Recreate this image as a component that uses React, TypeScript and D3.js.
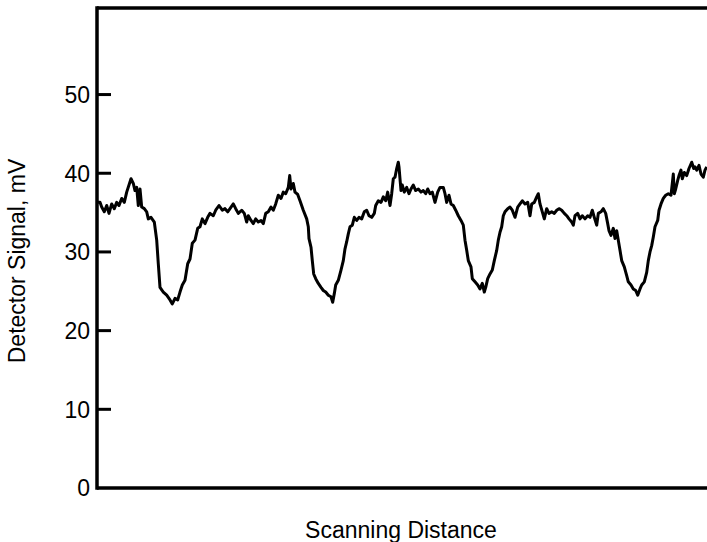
import React from "react";
import * as d3 from "d3";

// scanning distance (arbitrary units) and detector signal (mV)
const scanDistance = [
  0, 3, 4.7, 7.3, 9.7, 12, 14.7, 17.3, 19.7, 22, 24.7, 27.3, 29.7, 34, 36.3, 38, 39.7, 41.3, 43, 44.7,
  47.3, 49.7, 51.3, 54, 57.3, 59.7, 61.3, 63, 66.3, 69.7, 73, 75.3, 78, 80.7, 83, 85.3, 88, 90.7, 93, 95.3,
  98, 100.7, 103, 105.3, 108, 110.7, 113, 116.3, 118.7, 122, 125.3, 128, 130.7, 133, 136.3, 138.7, 141.3, 144.7, 147.3, 149.7,
  151.3, 154, 156.3, 158.7, 161.3, 164, 166.3, 168.7, 171.3, 174, 176.3, 178.7, 181.3, 184, 186.3, 188.7, 191.3, 192.7, 194, 196.3,
  198, 200.7, 203, 206.3, 209.7, 211.3, 212, 214, 215.3, 216.7, 218.7, 221.3, 224, 226.3, 228.7, 231.3, 234, 235.7, 237.3, 238.7,
  241.3, 244, 246.3, 248, 249.7, 251.3, 253, 255.3, 257.3, 259.7, 262, 264.7, 267.3, 269.7, 272, 274.7, 277.3, 278.7, 281.3, 284,
  286.3, 288.7, 290.7, 293, 294.7, 296.3, 298, 299.7, 301.3, 302, 303, 304, 305.3, 307.3, 309.7, 312, 314, 316.3, 318.7, 321.3,
  324, 326.3, 328.7, 330.7, 333, 335.3, 338, 340.7, 343, 346.3, 348, 349.7, 352, 354, 356.3, 358.7, 361.3, 364, 366.3, 368,
  369.7, 371.3, 374, 375.3, 378, 380.7, 383, 385.3, 387.3, 388.7, 390.7, 393, 395.3, 397.3, 399.7, 401.3, 403, 404.7, 406.3, 408,
  410.7, 413, 415.3, 418, 420.7, 423, 425.3, 428, 430.7, 433, 434.7, 437.3, 439.7, 441.3, 443, 445.3, 447.3, 449.7, 452, 454.7,
  457.3, 459.7, 462, 464.7, 467.3, 469.7, 472, 474.7, 476.3, 478, 480.7, 483, 485.3, 488, 490.7, 493, 495.3, 497.3, 499.7, 501.3,
  504, 506.3, 508.7, 510.7, 512, 514, 516.3, 518, 519.7, 521.3, 523, 524.7, 527.3, 529.7, 531.3, 534, 536.3, 538.7, 540.7, 543,
  544.7, 547.3, 549.7, 551.3, 553, 554.7, 556.3, 558, 560.7, 562, 564, 566.3, 568.7, 571.3, 574, 575.3, 576.3, 577.3, 578.7, 580.7,
  582, 584, 585.3, 587.3, 589.7, 592, 594.7, 596.7, 598, 599.7, 602, 604, 606.3, 608, 609.7,
];

const detectorSignal = [
  36.3, 36.3, 35.7, 35.1, 35.9, 34.9, 36.1, 35.5, 36.3, 35.9, 36.8, 36.3, 37.6, 39.3, 38.7, 37.8, 38.2, 35.9, 38.0, 35.7,
  35.5, 35.1, 34.2, 34.4, 33.8, 31.5, 28.5, 25.5, 24.9, 24.5, 23.9, 23.4, 24.1, 23.9, 24.9, 25.8, 26.4, 28.5, 29.1, 31.1,
  31.5, 33.0, 33.2, 34.2, 33.6, 34.4, 34.9, 34.6, 35.3, 35.9, 35.3, 35.5, 35.1, 35.5, 36.1, 35.5, 34.9, 35.3, 34.9, 33.8,
  34.6, 34.0, 33.6, 34.2, 33.8, 34.0, 33.6, 34.9, 35.1, 35.7, 35.3, 36.1, 37.2, 36.8, 37.6, 37.4, 38.2, 39.7, 38.0, 38.7,
  37.6, 37.3, 36.5, 35.3, 34.2, 33.2, 31.7, 30.6, 28.9, 27.2, 26.6, 26.0, 25.5, 25.1, 24.9, 24.5, 24.3, 23.6, 24.7, 25.8,
  26.4, 27.7, 28.9, 30.4, 31.3, 32.3, 33.2, 33.4, 34.4, 34.0, 34.4, 34.2, 35.1, 35.3, 34.6, 34.4, 34.9, 35.9, 36.5, 36.3,
  37.0, 36.5, 37.6, 35.9, 37.4, 39.3, 39.5, 40.6, 41.4, 40.8, 39.3, 37.8, 38.5, 37.6, 38.2, 37.4, 38.0, 38.5, 37.8, 38.0,
  37.6, 37.8, 37.4, 38.0, 37.4, 37.6, 36.3, 37.6, 38.2, 38.2, 37.4, 36.3, 37.2, 36.1, 35.9, 35.3, 34.6, 34.0, 33.4, 31.5,
  30.2, 28.9, 28.1, 26.6, 26.2, 25.8, 25.3, 26.0, 24.9, 25.5, 26.6, 27.2, 27.7, 28.9, 30.2, 31.5, 32.5, 33.2, 34.6, 35.1,
  35.5, 35.7, 35.3, 34.4, 35.7, 36.1, 36.5, 36.1, 36.3, 34.6, 36.1, 36.3, 37.0, 37.4, 36.1, 35.1, 34.2, 35.5, 34.9, 35.1,
  34.9, 35.3, 35.5, 35.3, 34.9, 34.6, 34.2, 33.8, 33.4, 34.6, 34.9, 34.2, 34.6, 34.2, 34.6, 34.4, 35.3, 34.4, 33.4, 34.9,
  35.1, 35.5, 34.9, 33.6, 32.7, 32.1, 33.0, 31.7, 32.7, 31.5, 30.2, 28.9, 28.1, 27.0, 26.2, 25.8, 25.3, 25.1, 24.5, 25.3,
  25.8, 26.2, 27.4, 28.9, 30.0, 30.8, 31.9, 33.2, 34.0, 35.3, 36.1, 36.8, 37.2, 37.4, 37.2, 38.7, 39.9, 37.4, 38.0, 39.1,
  39.7, 40.4, 39.3, 40.1, 39.7, 40.6, 41.4, 40.6, 40.8, 40.4, 41.0, 39.9, 39.5, 40.4, 40.8,
];

const yTicks = [0, 10, 20, 30, 40, 50];

const width = 707;
const height = 542;
const margin = { top: 8, right: 0, bottom: 54, left: 97 };
const font = "'Liberation Sans', Arial, Helvetica, sans-serif";

export default function App() {
  const x = d3
    .scaleLinear()
    .domain([0, 610])
    .range([margin.left, width - margin.right]);
  const y = d3
    .scaleLinear()
    .domain([0, 61])
    .range([height - margin.bottom, margin.top]);

  const points: [number, number][] = scanDistance.map((d, i) => [d, detectorSignal[i]]);
  const line = d3
    .line<[number, number]>()
    .x((d) => x(d[0]))
    .y((d) => y(d[1]));

  const x0 = x.range()[0];
  const x1 = x.range()[1];
  const yBottom = y.range()[0];
  const yTop = y.range()[1];

  return (
    <svg
      width={width}
      height={height}
      style={{ position: "absolute", left: 0, top: 0, background: "#fff" }}
    >
      {/* trace */}
      <path d={line(points) || ""} fill="none" stroke="#000" strokeWidth={3} strokeLinejoin="round" />

      {/* frame */}
      <line x1={x0} x2={x1 + 2} y1={yTop} y2={yTop} stroke="#000" strokeWidth={3.5} />
      <line x1={x0} x2={x1 + 2} y1={yBottom} y2={yBottom} stroke="#000" strokeWidth={3.5} />
      <line x1={x0} x2={x0} y1={yTop - 1.7} y2={yBottom + 1.7} stroke="#000" strokeWidth={3.5} />

      {/* y ticks, pointing inward */}
      {yTicks.map((t) => (
        <g key={t}>
          {t > 0 && (
            <line x1={x0} x2={x0 + 14} y1={y(t)} y2={y(t)} stroke="#000" strokeWidth={3} />
          )}
          <text
            x={x0 - 7}
            y={y(t)}
            dy="0.36em"
            textAnchor="end"
            fontFamily={font}
            fontSize={23}
          >
            {t}
          </text>
        </g>
      ))}

      <text
        transform={`translate(25, 261) rotate(-90)`}
        textAnchor="middle"
        fontFamily={font}
        fontSize={23}
      >
        Detector Signal, mV
      </text>
      <text
        x={401}
        y={538}
        textAnchor="middle"
        fontFamily={font}
        fontSize={23}
      >
        Scanning Distance
      </text>
    </svg>
  );
}
